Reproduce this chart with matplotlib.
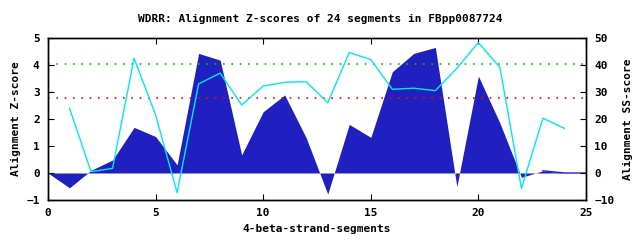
import matplotlib
matplotlib.use("Agg")
import matplotlib.pyplot as plt

# ---- data -----------------------------------------------------------------
seg = list(range(26))
zscore = [0.0, -0.55, 0.1, 0.48, 1.69, 1.35, 0.3, 4.43, 4.18, 0.67, 2.27,
          2.89, 1.3, -0.78, 1.8, 1.32, 3.75, 4.43, 4.65, -0.51, 3.59, 1.85,
          -0.16, 0.08, 0.0, 0.0]
ss_x = list(range(1, 25))
ss_score = [24, 0.5, 1.7, 42.5, 21.5, -7.3, 33, 37, 25.2, 32.2, 33.6, 33.8,
            26, 44.6, 42, 31, 31.4, 30.5, 38.8, 48.3, 39.1, -5.7, 20.3, 16.5]
green_level = 4.04
red_level = 2.78

FILL = "#2020c0"
CYAN = "#00e8f0"
FONT = dict(family="DejaVu Sans Mono", fontweight="bold", fontsize=8)

fig = plt.figure(figsize=(6.4, 2.4), dpi=100)
ax = fig.add_axes([0.075, 0.1667, 0.8406, 0.675])
ax.fill_between(seg, zscore, 0, color=FILL, lw=0, zorder=2)
# flat tail of the filled curve still shows as a thin line
ax.plot(seg[-3:], zscore[-3:], color=FILL, lw=1, zorder=2)
ax.axhline(green_level, color="#00c000", ls=(0, (1, 4)), lw=1.2, zorder=3)
ax.axhline(red_level, color="#ff0000", ls=(0, (1, 4)), lw=1.2, zorder=3)
ax.set_xlim(0, 25)
ax.set_ylim(-1, 5)
ax.set_xticks(range(0, 26, 5))
ax.set_yticks(range(-1, 6))

ax2 = ax.twinx()
ax2.plot(ss_x, ss_score, color=CYAN, lw=1, zorder=4)
ax2.set_ylim(-10, 50)
ax2.set_yticks(range(-10, 51, 10))

ax.tick_params(direction="in", length=4, top=True, right=False, pad=6)
ax2.tick_params(direction="in", length=4, pad=6)
for a in (ax, ax2):
    for lab in a.get_xticklabels() + a.get_yticklabels():
        lab.set_fontfamily(FONT["family"])
        lab.set_fontweight("bold")
        lab.set_fontsize(8)
    for s in a.spines.values():
        s.set_linewidth(1)

ax.set_xlabel("4-beta-strand-segments", labelpad=4, **FONT)
ax.set_ylabel("Alignment Z-score", labelpad=4, **FONT)
ax2.set_ylabel("Alignment SS-score", labelpad=6, **FONT)
fig.text(0.5, 0.92, "WDRR: Alignment Z-scores of 24 segments in FBpp0087724",
         ha="center", va="center", **FONT)

fig.savefig("out.png", dpi=100, facecolor="white")
